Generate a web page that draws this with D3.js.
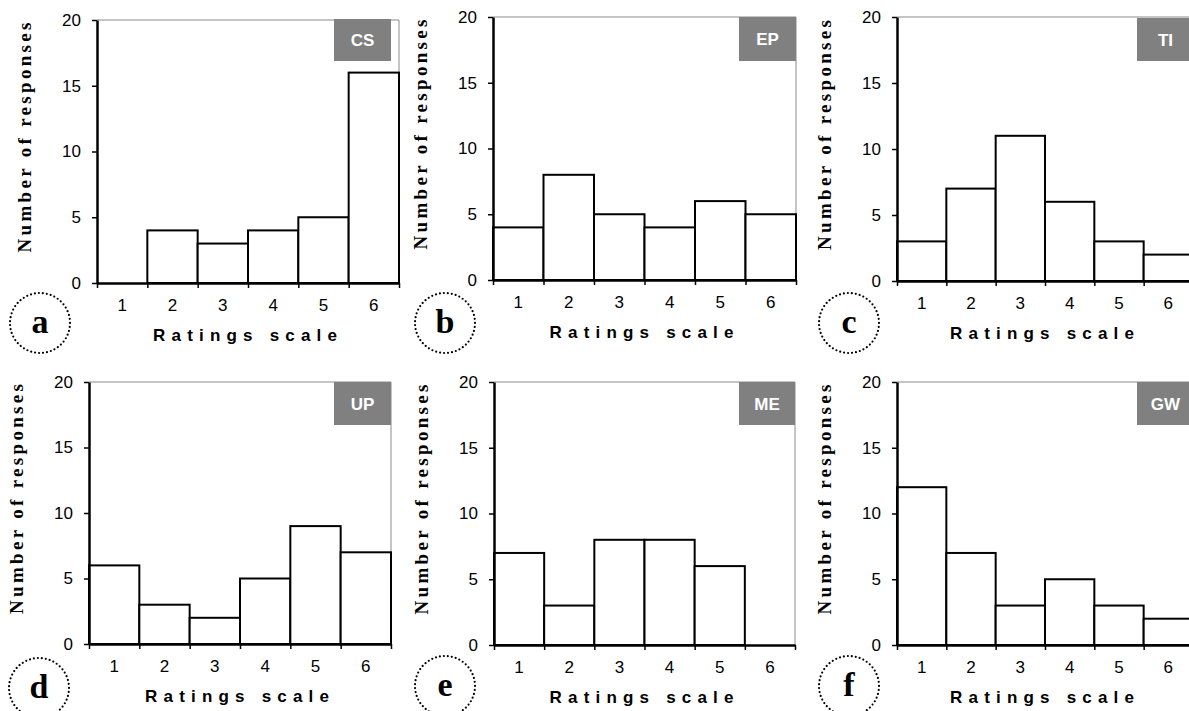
<!DOCTYPE html>
<html>
<head>
<meta charset="utf-8">
<script src="https://cdn.jsdelivr.net/npm/d3@7"></script>
<style>
  html, body { margin: 0; padding: 0; background: #fff; }
  svg { display: block; }
</style>
</head>
<body>
<svg id="chart" width="1189" height="711"></svg>
<script>
// Rating categories shared by every panel
const ratings = ["1", "2", "3", "4", "5", "6"];
const yTicks = [0, 5, 10, 15, 20];

// Response counts per rating for each item
const csCounts = [0, 4, 3, 4, 5, 16];
const epCounts = [4, 8, 5, 4, 6, 5];
const tiCounts = [3, 7, 11, 6, 3, 2];
const upCounts = [6, 3, 2, 5, 9, 7];
const meCounts = [7, 3, 8, 8, 6, 0];
const gwCounts = [12, 7, 3, 5, 3, 2];

const panelTags = ["CS", "EP", "TI", "UP", "ME", "GW"];
const panelLetters = ["a", "b", "c", "d", "e", "f"];
const panelCounts = [csCounts, epCounts, tiCounts, upCounts, meCounts, gwCounts];

// Plot frames: left axis, top, zero line, right edge, tag box extent
const frames = [
  { left: 97,  top: 20,  bottom: 283, right: 399,  tagL: 334,  tagR: 391,  tagT: 19,  tagB: 61,  circ: [40, 323] },
  { left: 493, top: 17,  bottom: 280, right: 796,  tagL: 739,  tagR: 796,  tagT: 17,  tagB: 61,  circ: [445, 323] },
  { left: 897, top: 17,  bottom: 281, right: 1193, tagL: 1137, tagR: 1194, tagT: 18,  tagB: 61,  circ: [849, 323] },
  { left: 89,  top: 382, bottom: 644, right: 391,  tagL: 334,  tagR: 391,  tagT: 382, tagB: 425, circ: [39, 688] },
  { left: 494, top: 382, bottom: 645, right: 795,  tagL: 739,  tagR: 795,  tagT: 382, tagB: 425, circ: [445, 686] },
  { left: 897, top: 382, bottom: 645, right: 1193, tagL: 1137, tagR: 1194, tagT: 382, tagB: 425, circ: [849, 686] }
];

const svg = d3.select("#chart");

frames.forEach((f, i) => {
  const counts = panelCounts[i];
  const g = svg.append("g");

  const x = d3.scaleBand().domain(ratings).range([f.left, f.right]).padding(0);
  const xEdge = d3.scaleLinear().domain([0, 6]).range([f.left, f.right]);
  const y = d3.scaleLinear().domain([0, 20]).range([f.bottom, f.top]);

  // thin grey frame on top and right
  g.append("path")
    .attr("d", `M${f.left},${f.top}H${f.right}V${f.bottom}`)
    .attr("fill", "none")
    .attr("stroke", "#8a8a8a")
    .attr("stroke-width", 1);

  // bars
  g.selectAll("rect.bar")
    .data(counts.map((v, k) => ({ r: ratings[k], v })))
    .join("rect")
    .attr("class", "bar")
    .attr("x", d => x(d.r))
    .attr("width", x.bandwidth())
    .attr("y", d => y(d.v))
    .attr("height", d => y(0) - y(d.v))
    .attr("fill", "#fff")
    .attr("stroke", d => d.v > 0 ? "#000" : "none")
    .attr("stroke-width", 2);

  // panel tag
  g.append("rect")
    .attr("x", f.tagL).attr("y", f.tagT)
    .attr("width", f.tagR - f.tagL).attr("height", f.tagB - f.tagT)
    .attr("fill", "#808080");
  g.append("text")
    .attr("x", (f.tagL + f.tagR) / 2)
    .attr("y", (f.tagT + f.tagB) / 2)
    .attr("dy", "0.36em")
    .attr("text-anchor", "middle")
    .attr("font-family", "Liberation Sans, Arial, sans-serif")
    .attr("font-weight", "bold")
    .attr("font-size", 17)
    .attr("fill", "#fff")
    .text(panelTags[i]);

  // y axis
  const yAxis = g.append("g")
    .attr("transform", `translate(${f.left},0)`)
    .call(d3.axisLeft(y).tickValues(yTicks).tickSize(5).tickPadding(11).tickSizeOuter(0));
  yAxis.select(".domain").attr("stroke", "#000").attr("stroke-width", 2.5);
  yAxis.selectAll(".tick line").attr("stroke", "#000").attr("stroke-width", 1.5);
  yAxis.selectAll(".tick text")
    .attr("font-family", "Liberation Sans, Arial, sans-serif")
    .attr("font-size", 17)
    .attr("fill", "#000");

  // x axis: tick marks at category boundaries
  const xTickAxis = g.append("g")
    .attr("transform", `translate(0,${f.bottom})`)
    .call(d3.axisBottom(xEdge).tickValues(d3.range(0, 7)).tickSize(5).tickSizeOuter(0).tickFormat(""));
  xTickAxis.select(".domain").attr("stroke", "#000").attr("stroke-width", 2.5);
  xTickAxis.selectAll(".tick line").attr("stroke", "#000").attr("stroke-width", 1.5);

  // x axis: category labels centred in each band
  const xLabelAxis = g.append("g")
    .attr("transform", `translate(0,${f.bottom})`)
    .call(d3.axisBottom(x).tickSize(0).tickPadding(16));
  xLabelAxis.select(".domain").remove();
  xLabelAxis.selectAll(".tick text")
    .attr("font-family", "Liberation Sans, Arial, sans-serif")
    .attr("font-size", 17)
    .attr("fill", "#000");

  // axis titles
  const cx = (f.left + f.right) / 2 - 3;
  g.append("text")
    .attr("x", cx)
    .attr("y", f.bottom + 58)
    .attr("text-anchor", "middle")
    .attr("font-family", "Liberation Sans, Arial, sans-serif")
    .attr("font-weight", "bold")
    .attr("font-size", 17)
    .attr("textLength", 184)
    .attr("lengthAdjust", "spacing")
    .text("Ratings scale");

  const ly = (f.top + f.bottom) / 2 - 14;
  const lx = f.left - 66;
  g.append("text")
    .attr("transform", `translate(${lx},${ly}) rotate(-90)`)
    .attr("text-anchor", "middle")
    .attr("font-family", "Liberation Serif, Times New Roman, serif")
    .attr("font-weight", "bold")
    .attr("font-size", 19)
    .attr("textLength", 230)
    .attr("lengthAdjust", "spacing")
    .text("Number of responses");

  // dotted circle with panel letter
  g.append("circle")
    .attr("cx", f.circ[0]).attr("cy", f.circ[1]).attr("r", 30)
    .attr("fill", "none")
    .attr("stroke", "#000")
    .attr("stroke-width", 2.2)
    .attr("stroke-linecap", "round")
    .attr("stroke-dasharray", "0 4");
  g.append("text")
    .attr("x", f.circ[0]).attr("y", f.circ[1])
    .attr("dy", "0.3em")
    .attr("text-anchor", "middle")
    .attr("font-family", "Liberation Serif, Times New Roman, serif")
    .attr("font-weight", "bold")
    .attr("font-size", 34)
    .text(panelLetters[i]);
});
</script>
</body>
</html>
